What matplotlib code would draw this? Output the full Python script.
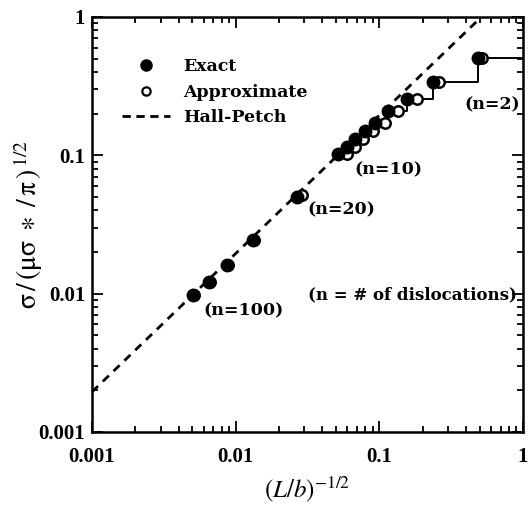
import matplotlib
matplotlib.use("Agg")
import matplotlib.pyplot as plt
from matplotlib.lines import Line2D
from matplotlib.ticker import LogLocator, FixedLocator, FixedFormatter, NullFormatter

# точные решения: n = 2..10, 20, 40, 60, 80, 100
x_exact = [0.485, 0.236, 0.156, 0.115, 0.093, 0.0794, 0.0676, 0.0596, 0.0515,
           0.0267, 0.0132, 0.00869, 0.00652, 0.00505]
y_exact = [0.505, 0.339, 0.255, 0.209, 0.171, 0.150, 0.131, 0.115, 0.102,
           0.050, 0.0244, 0.0161, 0.0121, 0.00977]

# приближённые решения для тех же n
x_approx = [0.518, 0.260, 0.183, 0.1345, 0.1094, 0.0901, 0.0769, 0.0676, 0.0596,
            0.0289, 0.0134, 0.0088, 0.0066, 0.0051]
y_approx = [0.505, 0.339, 0.255, 0.209, 0.171, 0.150, 0.131, 0.115, 0.102,
            0.0516, 0.0244, 0.0161, 0.0121, 0.00977]

# ступенчатая кривая через точные точки n = 10..2 и до правого края
x_steps = [0.0515, 0.0596, 0.0676, 0.0794, 0.093, 0.115, 0.156, 0.236, 0.485, 1.0]
y_steps = [0.102, 0.115, 0.131, 0.150, 0.171, 0.209, 0.255, 0.339, 0.505, 0.505]

# прямая Холла-Петча (концы)
x_hp = [0.001, 1.0]
y_hp = [0.00195, 1.95]

tick_vals = [0.001, 0.01, 0.1, 1]
tick_labels = ["0.001", "0.01", "0.1", "1"]

serif_bold = dict(family="DejaVu Serif", weight="bold")
plt.rcParams["mathtext.fontset"] = "stix"

fig = plt.figure(figsize=(5.30, 5.07), dpi=100)
ax = fig.add_axes([0.1736, 0.148, 0.8132, 0.8185])

ax.plot(x_hp, y_hp, color="black", linestyle=(0, (3.0, 2.4)), linewidth=2.0)
ax.plot(x_steps, y_steps, color="black", linewidth=1.4, drawstyle="steps-post")
ax.plot(x_approx, y_approx, linestyle="none", marker="o", markersize=7.5,
        markerfacecolor="white", markeredgecolor="black", markeredgewidth=1.8)
ax.plot(x_exact, y_exact, linestyle="none", marker="o", markersize=9,
        color="black")

ax.set_xscale("log")
ax.set_yscale("log")
ax.set_xlim(0.001, 1)
ax.set_ylim(0.001, 1)

for axis in (ax.xaxis, ax.yaxis):
    axis.set_major_locator(FixedLocator(tick_vals))
    axis.set_major_formatter(FixedFormatter(tick_labels))
    axis.set_minor_locator(LogLocator(base=10, subs=range(2, 10)))
    axis.set_minor_formatter(NullFormatter())

ax.tick_params(which="both", direction="in", top=True, right=True, width=1.3)
ax.tick_params(which="major", length=8)
ax.tick_params(which="minor", length=4)
ax.tick_params(axis="x", which="major", pad=11)
ax.tick_params(axis="y", which="major", pad=5)
for lab in ax.get_xticklabels() + ax.get_yticklabels():
    lab.set_fontfamily("Liberation Serif")
    lab.set_fontweight("bold")
    lab.set_fontsize(15)

for sp in ax.spines.values():
    sp.set_linewidth(1.8)

ax.set_xlabel(r"$(L/b)^{-1/2}$", fontsize=18, labelpad=5)
ax.set_ylabel(r"$\mathrm{\sigma\,/\,(\mu\sigma\;\ast\;/\,\pi\,)}^{\,1/2}$",
              fontsize=20, labelpad=-5)

# подписи числа дислокаций
ax.text(0.608, 0.231, "(n=2)", fontsize=12.5, ha="center", va="center", **serif_bold)
ax.text(0.115, 0.078, "(n=10)", fontsize=12.5, ha="center", va="center", **serif_bold)
ax.text(0.054, 0.040, "(n=20)", fontsize=12.5, ha="center", va="center", **serif_bold)
ax.text(0.0114, 0.0075, "(n=100)", fontsize=12.5, ha="center", va="center", **serif_bold)
ax.text(0.169, 0.00977, "(n = # of dislocations)", fontsize=12, ha="center",
        va="center", **serif_bold)

handles = [
    Line2D([], [], linestyle="none", marker="o", markersize=8, color="black"),
    Line2D([], [], linestyle="none", marker="o", markersize=6,
           markerfacecolor="white", markeredgecolor="black", markeredgewidth=1.6),
    Line2D([], [], color="black", linestyle=(0, (3.0, 2.0)), linewidth=2.0),
]
ax.legend(handles, ["Exact", "Approximate", "Hall-Petch"], loc="upper left",
          bbox_to_anchor=(0.034, 0.939), frameon=False, handlelength=2.76,
          handletextpad=0.75, labelspacing=0.5,
          prop=dict(family="DejaVu Serif", weight="bold", size=12.5))

fig.savefig("out.png", dpi=100, facecolor="white")
